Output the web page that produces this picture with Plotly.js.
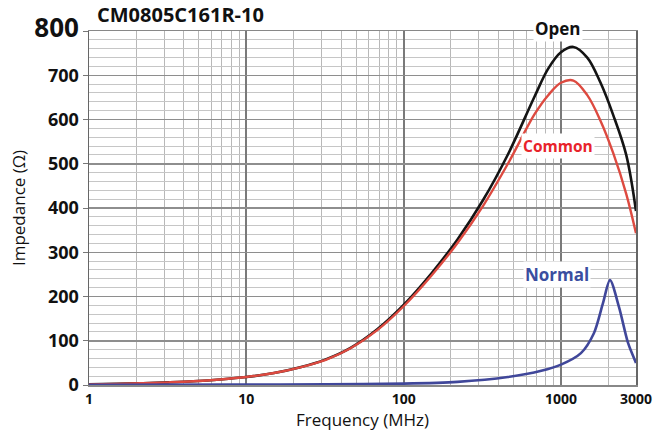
<!DOCTYPE html>
<html>
<head>
<meta charset="utf-8">
<script src="https://cdn.plot.ly/plotly-3.0.1.min.js"></script>
<style>html,body{margin:0;padding:0;background:#fff;}#chart{width:654px;height:431px;}</style>
</head>
<body>
<div id="chart"></div>
<script>
// Frequencies (MHz) and impedance (Ohm)
const freqOpen = [1, 1.5, 2.2, 3.2, 4.6, 6.8, 10, 15, 22, 32, 46, 68, 100, 150, 220, 320, 460, 680, 830, 1000, 1200, 1470, 1780, 2150, 2600, 3000];
const zOpen    = [1.5, 2.5, 4, 6, 8.5, 12.5, 18, 27, 40, 58, 84, 126, 181, 252, 329, 418, 521, 652, 715, 752, 764, 740, 684, 610, 520, 393];

const freqCommon = [1, 1.5, 2.2, 3.2, 4.6, 6.8, 10, 15, 22, 32, 46, 68, 100, 150, 220, 320, 460, 680, 830, 1000, 1200, 1470, 1780, 2150, 2600, 3000];
const zCommon    = [1.5, 2.5, 4, 6, 8.5, 12.5, 18, 27, 40, 57, 83, 124, 178, 247, 321, 405, 500, 612, 655, 683, 688, 655, 598, 524, 432, 343];

const freqNormal = [1, 10, 32, 100, 220, 460, 750, 1000, 1340, 1620, 1850, 2050, 2340, 2670, 3000];
const zNormal    = [0.5, 1, 1.5, 3, 7, 18, 32, 46, 72, 117, 185, 237, 176, 95, 50];

const xTickVals = [1, 10, 100, 1000, 3000];
const xTickText = ['1', '10', '100', '1000', '3000'];
const yTickVals = [0, 100, 200, 300, 400, 500, 600, 700, 800];
const yTickText = ['0', '100', '200', '300', '400', '500', '600', '700', '<span style="font-size:26px">800</span>'];

const chartTitle = 'CM0805C161R-10';
const seriesNames = ['Open', 'Common', 'Normal'];

const FONT = 'Open Sans, Noto Sans, sans-serif';

const traces = [
  {x: freqOpen, y: zOpen, name: seriesNames[0], mode: 'lines', line: {color: '#141414', width: 2.6, shape: 'spline', smoothing: 1}},
  {x: freqCommon, y: zCommon, name: seriesNames[1], mode: 'lines', line: {color: '#dd4a40', width: 2.4, shape: 'spline', smoothing: 1}},
  {x: freqNormal, y: zNormal, name: seriesNames[2], mode: 'lines', line: {color: '#40479a', width: 2.6, shape: 'spline', smoothing: 0.8}}
];

const layout = {
  width: 654, height: 431,
  margin: {l: 89, r: 18, t: 31, b: 46},
  paper_bgcolor: '#fff', plot_bgcolor: '#fff',
  showlegend: false,
  font: {family: FONT, color: '#111'},
  title: {text: '<b>' + chartTitle + '</b>', x: 97/654, xanchor: 'left', xref: 'container', y: 1 - 15/431, yanchor: 'middle', yref: 'container', font: {size: 20, family: FONT, color: '#111'}},
  xaxis: {
    type: 'log', range: [0, Math.log10(3000)],
    tickmode: 'array', tickvals: xTickVals, ticktext: xTickText,
    tickfont: {size: 14, family: FONT, color: '#111', weight: 'bold'},
    ticklabelstandoff: 1,
    showgrid: true, gridcolor: '#7a7a7a', gridwidth: 1.8,
    minor: {dtick: 'D1', showgrid: true, gridcolor: '#b8b8b8', gridwidth: 1},
    showline: true, mirror: true, linecolor: '#888', linewidth: 1.5,
    ticks: '', zeroline: false,
    title: {text: 'Frequency (MHz)', font: {size: 17, family: FONT, color: '#111'}, standoff: 4}
  },
  yaxis: {
    range: [0, 800],
    tickmode: 'array', tickvals: yTickVals, ticktext: yTickText,
    tickfont: {size: 18, family: FONT, color: '#111', weight: 'bold'},
    showgrid: true, gridcolor: '#8e8e8e', gridwidth: 1.5,
    minor: {dtick: 20, showgrid: true, gridcolor: '#c6c6c6', gridwidth: 1},
    showline: true, mirror: true, linecolor: '#666', linewidth: 1.5,
    ticks: 'outside', ticklen: 5, tickcolor: '#777', zeroline: false,
    title: {text: 'Impedance (Ω)', font: {size: 17, family: FONT, color: '#111'}, standoff: 4}
  },
  annotations: [
    {xref: 'paper', yref: 'paper', x: (558-89)/547, y: (385-28)/354, text: '<b>Open</b>', showarrow: false, bgcolor: '#fff', font: {size: 17, family: FONT, color: '#111'}, xanchor: 'center', yanchor: 'middle'},
    {xref: 'paper', yref: 'paper', x: (558-89)/547, y: (385-146)/354, text: '<b>Common</b>', showarrow: false, bgcolor: '#fff', font: {size: 15.5, family: FONT, color: '#e8232b'}, xanchor: 'center', yanchor: 'middle'},
    {xref: 'paper', yref: 'paper', x: (557-89)/547, y: (385-274)/354, text: '<b>Normal</b>', showarrow: false, bgcolor: '#fff', font: {size: 17, family: FONT, color: '#3a4ea0'}, xanchor: 'center', yanchor: 'middle'}
  ]
};

Plotly.newPlot('chart', traces, layout, {displayModeBar: false, staticPlot: true});
</script>
</body>
</html>
